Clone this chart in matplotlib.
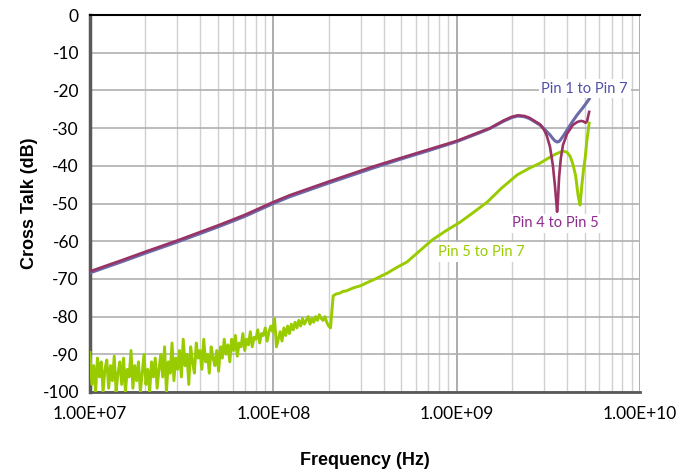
import matplotlib.pyplot as plt
import numpy as np
from matplotlib.ticker import FixedLocator, LogLocator, NullFormatter

# Pin 1 to Pin 7 and Pin 4 to Pin 5 share the low-frequency trend (Hz, dB)
freq_a = [1.0e7, 1.5e7, 2.0e7, 3.0e7, 5.0e7, 7.0e7, 1.0e8, 1.23e8, 2.0e8, 3.5e8,
          4.9e8, 7.0e8, 1.0e9, 1.34e9, 1.52e9, 1.8e9, 2.0e9, 2.16e9, 2.35e9,
          2.5e9, 2.7e9, 2.85e9]
p17_db = [-68.4, -65.4, -63.2, -60.2, -56.2, -53.4, -50.0, -48.2, -44.6, -40.6,
          -38.3, -36.0, -33.6, -31.2, -30.1, -28.2, -27.2, -26.8, -27.0,
          -27.5, -28.5, -29.2]
p45_db = [-68.0, -65.0, -62.8, -59.8, -55.8, -53.0, -49.6, -47.8, -44.2, -40.2,
          -38.0, -35.7, -33.4, -31.0, -30.0, -28.0, -27.0, -26.6, -26.8,
          -27.3, -28.3, -29.0]

# resonance region above 2.85 GHz
freq_17_tail = [3.0e9, 3.23e9, 3.35e9, 3.44e9, 3.53e9, 3.6e9, 3.67e9, 3.8e9,
                4.0e9, 4.25e9, 4.54e9, 4.9e9, 5.28e9]
p17_tail = [-30.2, -31.8, -32.8, -33.4, -33.7, -33.6, -33.2, -32.2,
            -30.5, -28.5, -26.5, -24.5, -22.3]
freq_45_tail = [3.0e9, 3.1e9, 3.23e9, 3.35e9, 3.44e9, 3.5e9, 3.53e9, 3.57e9,
                3.62e9, 3.7e9, 3.8e9, 4.0e9, 4.3e9, 4.54e9, 4.75e9, 4.9e9,
                5.05e9, 5.14e9, 5.28e9]
p45_tail = [-30.5, -32.0, -35.0, -40.0, -45.6, -50.0, -52.2, -49.0,
            -43.0, -38.0, -34.5, -31.5, -29.2, -28.4, -28.1, -28.2,
            -28.6, -28.2, -25.7]

# Pin 5 to Pin 7, noisy floor from 10 MHz to ~205 MHz
p57_noise_db = [
    -89.5, -98, -93, -100, -91, -96, -92, -100, -94, -91.5, -99, -93, -97,
    -90.5, -100, -95, -92, -98, -91, -100, -94, -96, -89, -99, -93, -97, -92,
    -100, -95, -90, -98, -94, -100, -92, -96, -91, -99, -94,
    -90, -96, -88, -100, -92, -95, -87, -97, -91, -94, -89, -96, -86, -93,
    -90, -98, -88, -92, -95, -87, -91, -89, -94, -86, -92, -90, -95, -88, -91,
    -93, -89, -94.5, -88, -91, -86, -90, -87.5, -92, -86, -89, -85, -90.5,
    -87, -88, -84.5, -89, -86, -87.5, -84, -88, -85.5, -86, -83.5, -87,
    -84.5, -85, -83, -86.5, -84, -82.5, -84,
    -80.5,
    -88, -86, -84, -86.5, -83, -85, -82.5, -84.5, -82, -83.5, -81.5, -83,
    -81, -82.5, -80.5, -82, -81, -80, -82, -80.5, -81.5, -80, -81, -79.5,
    -80.5, -81, -80, -81.5, -82.5, -83,
]
p57_noise_start = 1.0e7
p57_noise_stop = 2.05e8

p57_freq = [2.12e8, 2.2e8, 2.3e8, 2.4e8, 2.5e8, 2.72e8, 3.0e8, 3.24e8, 3.6e8,
            4.17e8, 4.7e8, 5.36e8, 6.2e8, 7.34e8, 8.7e8, 1.04e9, 1.24e9,
            1.47e9, 1.75e9, 2.14e9, 2.5e9, 2.85e9, 3.23e9, 3.5e9, 3.8e9,
            4.0e9, 4.16e9, 4.3e9, 4.45e9, 4.6e9, 4.71e9, 4.82e9, 4.92e9,
            5.02e9, 5.14e9, 5.28e9]
p57_db = [-74.5, -74.0, -73.8, -73.3, -73.2, -72.4, -71.8, -71.0, -70.0,
          -68.5, -67.0, -65.5, -62.8, -59.7, -57.3, -55.0, -52.3,
          -49.6, -46.0, -42.4, -40.6, -39.3, -37.7, -36.8, -36.1,
          -36.4, -37.5, -39.5, -42.5, -48.0, -50.4, -45.0, -41.0,
          -38.0, -33.0, -28.7]

y_ticks = [0, -10, -20, -30, -40, -50, -60, -70, -80, -90, -100]
x_ticks = [1e7, 1e8, 1e9, 1e10]
x_labels = ['1.00E+07', '1.00E+08', '1.00E+09', '1.00E+10']

c17 = '#6B6BAA'
c45 = '#993366'
c57 = '#99CC00'

plt.rcParams['font.family'] = ['Lato', 'DejaVu Sans']
plt.rcParams['axes.unicode_minus'] = False

fig = plt.figure(figsize=(6.98, 4.74), dpi=100)
ax = fig.add_axes([90 / 698, 1 - 392 / 474, 550 / 698, 377 / 474])

noise_f = np.geomspace(p57_noise_start, p57_noise_stop, len(p57_noise_db))
ax.plot(list(noise_f) + p57_freq, p57_noise_db + p57_db, color=c57, lw=2.1,
        zorder=3)
ax.plot(freq_a + freq_17_tail, p17_db + p17_tail, color=c17, lw=2.2, zorder=4)
ax.plot(freq_a + freq_45_tail, p45_db + p45_tail, color=c45, lw=1.9, zorder=5)

ax.set_xscale('log')
ax.set_xlim(1e7, 1e10)
ax.set_ylim(-100, 0)

ax.xaxis.set_major_locator(FixedLocator(x_ticks))
ax.set_xticklabels(x_labels)
ax.xaxis.set_minor_locator(LogLocator(base=10, subs=np.arange(2, 10)))
ax.xaxis.set_minor_formatter(NullFormatter())
ax.set_yticks(y_ticks)

ax.grid(True, which='major', axis='x', color='#A6A6A6', lw=1.3)
ax.grid(True, which='minor', axis='x', color='#D0D0D0', lw=1.0)
ax.grid(True, which='major', axis='y', color='#B0B0B0', lw=1.2)
ax.set_axisbelow(True)

ax.tick_params(axis='both', which='both', length=0, labelsize=12.5,
               colors='black')
ax.tick_params(axis='x', pad=10)
ax.tick_params(axis='y', pad=8)

ax.spines['left'].set_color('#595959')
ax.spines['left'].set_linewidth(2.5)
ax.spines['bottom'].set_color('#595959')
ax.spines['bottom'].set_linewidth(2.0)
ax.spines['top'].set_color('black')
ax.spines['top'].set_linewidth(1.5)
ax.spines['right'].set_visible(False)

ax.set_xlabel('Frequency (Hz)', fontsize=13, fontweight='bold',
              family=['Liberation Sans', 'DejaVu Sans'], labelpad=22)
ax.set_ylabel('Cross Talk (dB)', fontsize=13, fontweight='bold',
              family=['Liberation Sans', 'DejaVu Sans'])
ax.yaxis.set_label_coords(-0.094, 0.5)

box = dict(facecolor='white', edgecolor='none', pad=2)
ax.text(5.0e9, -19.5, 'Pin 1 to Pin 7', color='#5050A8', fontsize=10.5,
        ha='center', va='center', bbox=box, zorder=6)
ax.text(3.45e9, -55.3, 'Pin 4 to Pin 5', color='#8E2A8E', fontsize=10.5,
        ha='center', va='center', bbox=box, zorder=6)
ax.text(1.37e9, -62.9, 'Pin 5 to Pin 7', color=c57, fontsize=10.5,
        ha='center', va='center', bbox=box, zorder=6)

fig.savefig('out.png', dpi=100)
